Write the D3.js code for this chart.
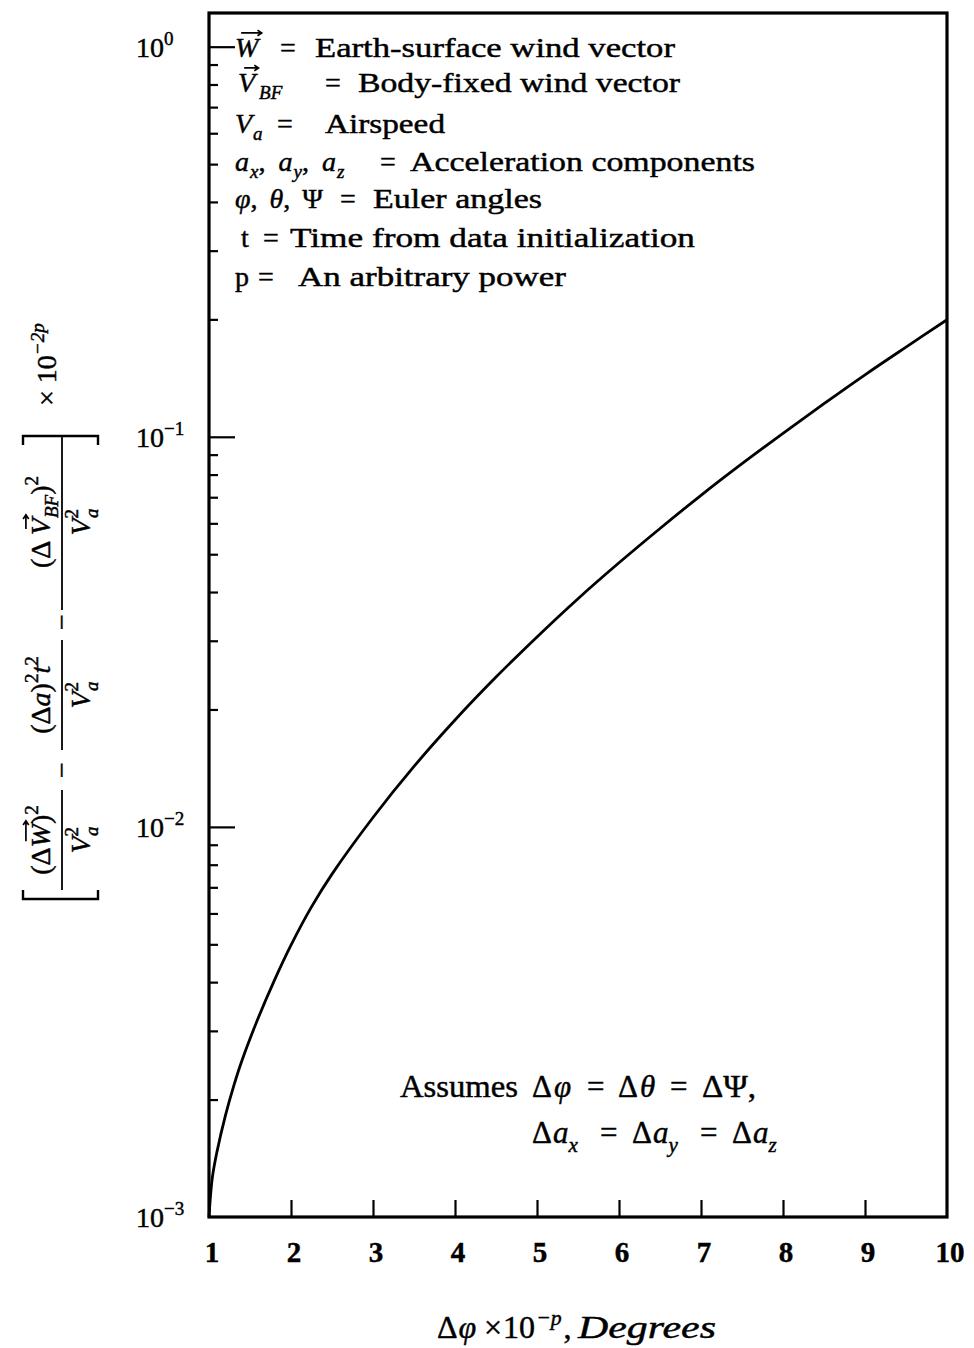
<!DOCTYPE html>
<html><head><meta charset="utf-8">
<script src="https://cdn.jsdelivr.net/npm/d3@7"></script>
<style>
body{margin:0;background:#fff}
svg{display:block;font-family:"Liberation Serif","Times New Roman",serif}
text{white-space:pre;fill:#000;stroke:#000;stroke-width:0.45px}
</style>
</head><body>
<svg id="c" width="974" height="1348"></svg>
<script>
// ---------------- data ----------------
const xTickValues = [1,2,3,4,5,6,7,8,9,10];
const xTickLabels = ["1","2","3","4","5","6","7","8","9","10"];
const yMajorValues = [1e-3,1e-2,1e-1,1e0];
const yMajorExponents = ["−3","−2","−1","0"];
const yMinorMultipliers = [2,3,4,5,6,7,8,9];
const yMinorDecades = [1e-3,1e-2,1e-1];
const deltaPhi = [1, 1.04, 1.1, 1.2, 1.3, 1.4, 1.6, 1.8, 2, 2.25, 2.5, 3, 3.5, 4, 4.5, 5, 5.5, 6, 6.5, 7, 7.5, 8, 8.5, 9, 9.5, 10];
const residual = [0.001000, 0.001259, 0.001479, 0.001820, 0.002163, 0.002512, 0.003236, 0.004055, 0.004977, 0.006237, 0.007568, 0.01057, 0.01429, 0.01879, 0.02421, 0.03069, 0.03846, 0.04753, 0.05821, 0.07079, 0.08531, 0.1021, 0.1216, 0.1442, 0.1698, 0.1995];
const legendDefs = ["Earth-surface wind vector","Body-fixed wind vector","Airspeed","Acceleration components","Euler angles","Time from data initialization","An arbitrary power"];

// ---------------- layout ----------------
const yMinorValues = yMinorMultipliers.flatMap(k => yMinorDecades.map(d => k*d));
const svg = d3.select('#c');
const M = {left:209, right:947, top:13, bottom:1217};
const yTop = 1.22;
const x = d3.scaleLinear().domain([1,10]).range([M.left, M.right]);
const y = d3.scaleLog().domain([1e-3, yTop]).range([M.bottom, M.top]);

// rich text helper
function rich(parent, px, py, parts, size, anchor, subShift) {
  const t = parent.append('text').attr('x', px).attr('y', py)
    .attr('font-size', size).attr('text-anchor', anchor || 'start');
  let shift = 0;
  const arrows = [];
  const sb = subShift || 0.30;
  parts.forEach(p => {
    const target = p.sub ? size*sb : p.sup ? -size*0.42 : 0;
    const ts = t.append('tspan').text(p.t).attr('dy', target - shift);
    shift = target;
    if (p.x !== undefined) ts.attr('x', p.x);
    if (p.sub || p.sup) ts.attr('font-size', size*0.68);
    if (p.i) ts.attr('font-style', 'italic');
    if (p.dx) ts.attr('dx', p.dx);
    if (p.w) ts.attr('textLength', p.w).attr('lengthAdjust', 'spacingAndGlyphs');
    if (p.arrow) arrows.push(ts.node());
  });
  arrows.forEach(n => {
    const s = n.getStartPositionOfChar(0);
    const e = n.getEndPositionOfChar(n.getNumberOfChars()-1);
    const ya = s.y - size*0.86;
    const x0 = s.x + size*0.22, x1 = e.x + size*0.12;
    parent.append('path')
      .attr('d', `M${x0},${ya}L${x1},${ya}M${x1-size*0.15},${ya-size*0.1}L${x1},${ya}L${x1-size*0.15},${ya+size*0.1}`)
      .attr('fill','none').attr('stroke','#000').attr('stroke-width',1.7);
  });
  return t;
}

// ---------------- frame + ticks ----------------
const xAxis = d3.axisBottom(x).tickValues(xTickValues.slice(1, -1)).tickSizeInner(-17).tickSizeOuter(0).tickFormat('');
svg.append('g').attr('transform', `translate(0,${M.bottom})`).call(xAxis)
  .call(g => g.select('.domain').remove())
  .call(g => g.selectAll('line').attr('stroke','#000').attr('stroke-width',2.2));

svg.append('g').selectAll('text').data(xTickValues).join('text')
  .attr('x', d => x(d) + 3).attr('y', 1262).attr('text-anchor','middle')
  .attr('font-size', 29).attr('font-weight','bold')
  .text((d,i) => xTickLabels[i]);

const yMajorAxis = d3.axisLeft(y).tickValues(yMajorValues.slice(1)).tickSizeInner(-26).tickSizeOuter(0).tickFormat('');
svg.append('g').attr('transform', `translate(${M.left},0)`).call(yMajorAxis)
  .call(g => g.select('.domain').remove())
  .call(g => g.selectAll('line').attr('stroke','#000').attr('stroke-width',2.2));
const yMinorAxis = d3.axisLeft(y).tickValues(yMinorValues).tickSizeInner(-9).tickSizeOuter(0).tickFormat('');
svg.append('g').attr('transform', `translate(${M.left},0)`).call(yMinorAxis)
  .call(g => g.select('.domain').remove())
  .call(g => g.selectAll('line').attr('stroke','#000').attr('stroke-width',2.2));

yMajorValues.forEach((v, i) => {
  rich(svg, 136, y(v) + 10, [{t:'10'}, {t:yMajorExponents[i], sup:true}], 28);
});

svg.append('rect').attr('x', M.left).attr('y', M.top)
  .attr('width', M.right - M.left).attr('height', M.bottom - M.top)
  .attr('fill','none').attr('stroke','#000').attr('stroke-width',3.2);

// ---------------- curve ----------------
const pts = deltaPhi.map((d,i) => [d, residual[i]]);
svg.append('path').datum(pts)
  .attr('d', d3.line().x(d => x(d[0])).y(d => y(d[1])).curve(d3.curveCatmullRom.alpha(0.5)))
  .attr('fill','none').attr('stroke','#000').attr('stroke-width',2.8);

// ---------------- legend block ----------------
const legendSyms = [
  [{t:'W', i:true, arrow:true}],
  [{t:'V', i:true, arrow:true}, {t:'BF', i:true, sub:true, dx:4}],
  [{t:'V', i:true}, {t:'a', i:true, sub:true, dx:1}],
  [{t:'a', i:true}, {t:'x', i:true, sub:true, dx:1}, {t:', '}, {t:'a', i:true, dx:6}, {t:'y', i:true, sub:true, dx:1}, {t:', '}, {t:'a', i:true, dx:6}, {t:'z', i:true, sub:true, dx:1}],
  [{t:'φ', i:true}, {t:', '}, {t:'θ', i:true, dx:5}, {t:', '}, {t:'Ψ', dx:5}],
  [{t:'t'}],
  [{t:'p'}]
];
const legSymX = [235, 238, 235, 235, 235, 241, 235];
const legEqX  = [280, 325, 277, 380, 340, 263, 258];
const legDefX = [315, 358, 325, 410, 373, 290, 298];
const legDefW = [360, 322, 120, 345, 169, 405, 268];
const legY    = [57, 92, 133, 171, 208, 247, 286];
const legSize = 28;
legendDefs.forEach((def, i) => {
  rich(svg, legSymX[i], legY[i], legendSyms[i], legSize, 'start', 0.24);
  svg.append('text').attr('x', legEqX[i]).attr('y', legY[i]).attr('font-size', legSize).text('=');
  svg.append('text').attr('x', legDefX[i]).attr('y', legY[i]).attr('font-size', legSize)
    .attr('textLength', legDefW[i]).attr('lengthAdjust','spacingAndGlyphs').text(def);
});

// ---------------- annotation ----------------
rich(svg, 400, 1097, [
  {t:'Assumes', w:118},
  {t:'Δ', x:532}, {t:'φ', i:true, dx:2},
  {t:'=', x:587},
  {t:'Δ', x:618}, {t:'θ', i:true, dx:2},
  {t:'=', x:670},
  {t:'ΔΨ,', x:702, w:54}], 31);
rich(svg, 532, 1143, [
  {t:'Δ'}, {t:'a', i:true, dx:1}, {t:'x', i:true, sub:true},
  {t:'=', x:600},
  {t:'Δ', x:632}, {t:'a', i:true, dx:1}, {t:'y', i:true, sub:true},
  {t:'=', x:700},
  {t:'Δ', x:732}, {t:'a', i:true, dx:1}, {t:'z', i:true, sub:true}], 31);

// ---------------- x axis title ----------------
rich(svg, 437, 1338, [
  {t:'Δ'}, {t:'φ', i:true, dx:1},
  {t:'×', x:484},
  {t:'10', x:503}, {t:'−p', i:true, sup:true, dx:1},
  {t:',', dx:2},
  {t:'Degrees', i:true, x:578, w:138}], 32);

// ---------------- y axis title (rotated) ----------------
const yl = svg.append('g').attr('transform', 'rotate(-90)');
// local coords: u = -imageY, v = imageX
const ylSize = 28;
function frac(uc, u0, u1, num, den) {
  rich(yl, uc, 50, num, ylSize, 'middle');
  yl.append('line').attr('x1', u0).attr('x2', u1).attr('y1', 62).attr('y2', 62)
    .attr('stroke','#000').attr('stroke-width',1.8);
  rich(yl, uc, 90, den, ylSize, 'middle');
}
const denParts = [{t:'V', i:true}, {t:'2', sup:true}, {t:'a', i:true, sub:true, dx:-9}];
frac(-840, -890, -790, [{t:'(Δ'}, {t:'W', i:true, arrow:true}, {t:')'}, {t:'2', sup:true}], denParts);
rich(yl, -770, 71, [{t:'−'}], ylSize, 'middle');
frac(-695, -750, -640, [{t:'(Δ'}, {t:'a', i:true}, {t:')'}, {t:'2', sup:true}, {t:'t', i:true}, {t:'2', sup:true}], denParts);
rich(yl, -622, 71, [{t:'−'}], ylSize, 'middle');
frac(-522, -610, -437, [{t:'(Δ '}, {t:'V', i:true, arrow:true}, {t:'BF', i:true, sub:true}, {t:')'}, {t:'2', sup:true}], denParts);
// brackets
yl.append('path').attr('d', 'M-890,23L-899,23L-899,98L-890,98').attr('fill','none').attr('stroke','#000').attr('stroke-width',2.4);
yl.append('path').attr('d', 'M-445,23L-436,23L-436,98L-445,98').attr('fill','none').attr('stroke','#000').attr('stroke-width',2.4);
rich(yl, -406, 56, [{t:'× 10'}, {t:'−2p', i:true, sup:true}], 28);
</script>
</body></html>
